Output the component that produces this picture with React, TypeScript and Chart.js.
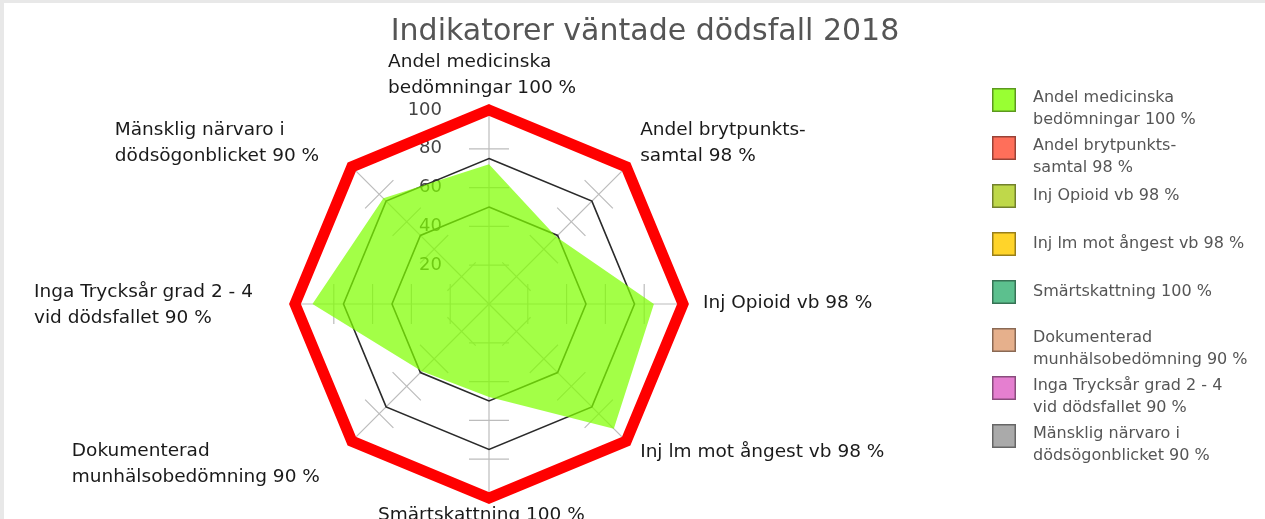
import React, { useEffect, useRef } from "react";
import { Chart, registerables } from "chart.js";

Chart.register(...registerables);

const chartTitle = "Indikatorer väntade dödsfall 2018";

const categoryLines: string[][] = [
  ["Andel medicinska", "bedömningar 100 %"],
  ["Andel brytpunkts-", "samtal 98 %"],
  ["Inj Opioid vb 98 %"],
  ["Inj lm mot ångest vb 98 %"],
  ["Smärtskattning 100 %"],
  ["Dokumenterad", "munhälsobedömning 90 %"],
  ["Inga Trycksår grad 2 - 4", "vid dödsfallet 90 %"],
  ["Mänsklig närvaro i", "dödsögonblicket 90 %"],
];
const categories = categoryLines.map((l) => l.join(" "));

const resultValues = [72, 49, 85, 91, 48, 49, 91, 77];
const targetValues = [100, 100, 100, 100, 100, 100, 100, 100];
const upperLevelValues = [75, 75, 75, 75, 75, 75, 75, 75];
const lowerLevelValues = [50, 50, 50, 50, 50, 50, 50, 50];

const tickLabels = [20, 40, 60, 80, 100];
const tickMarkValues = [20, 40, 60, 80];

const legendColors = [
  "#99ff33",
  "#ff6f5a",
  "#bfd84a",
  "#ffd42a",
  "#5cc08e",
  "#e6b08c",
  "#e57fd0",
  "#aaaaaa",
];

// layout: first-line offsets of each point label from its axis end (value 100)
const pointLabelOffsets: [number, number][] = [
  [-101, -48],
  [14, -37],
  [20, -1],
  [14, 11],
  [-111, 17],
  [-280, 10],
  [-261, -12],
  [-237, -37],
];

const FONT = '"DejaVu Sans", Verdana, sans-serif';

const decorPlugin = {
  id: "decor",
  beforeDraw(chart: any) {
    const ctx = chart.ctx;
    ctx.save();
    ctx.fillStyle = "#ffffff";
    ctx.fillRect(0, 0, chart.width, chart.height);
    ctx.fillStyle = "#e8e8e8";
    ctx.fillRect(0, 0, chart.width, 3);
    ctx.fillRect(0, 0, 4, chart.height);
    ctx.restore();
  },
  beforeDatasetsDraw(chart: any) {
    const ctx = chart.ctx;
    const s = chart.scales.r;
    ctx.save();
    ctx.strokeStyle = "#bcbcbc";
    ctx.lineWidth = 1.2;
    for (let i = 0; i < categories.length; i++) {
      const a = s.getIndexAngle(i) - Math.PI / 2;
      const px = -Math.sin(a);
      const py = Math.cos(a);
      for (const v of tickMarkValues) {
        const p = s.getPointPosition(i, s.getDistanceFromCenterForValue(v));
        ctx.beginPath();
        ctx.moveTo(p.x - 20 * px, p.y - 20 * py);
        ctx.lineTo(p.x + 20 * px, p.y + 20 * py);
        ctx.stroke();
      }
    }
    ctx.fillStyle = "#444444";
    ctx.font = `18px ${FONT}`;
    ctx.textAlign = "right";
    ctx.textBaseline = "middle";
    for (const v of tickLabels) {
      const d = s.getDistanceFromCenterForValue(v);
      ctx.fillText(String(v), s.xCenter - 47, s.yCenter - d);
    }
    ctx.restore();
  },
  afterDraw(chart: any) {
    const ctx = chart.ctx;
    const s = chart.scales.r;
    ctx.save();
    // title
    ctx.fillStyle = "#555555";
    ctx.font = `30px ${FONT}`;
    ctx.textAlign = "center";
    ctx.textBaseline = "middle";
    ctx.fillText(chartTitle, 645, 32);

    // point labels
    ctx.fillStyle = "#1a1a1a";
    ctx.font = `18.5px ${FONT}`;
    ctx.textAlign = "left";
    for (let i = 0; i < categoryLines.length; i++) {
      const p = s.getPointPosition(i, s.getDistanceFromCenterForValue(100));
      const [dx, dy] = pointLabelOffsets[i];
      categoryLines[i].forEach((line, k) => {
        ctx.fillText(line, p.x + dx, p.y + dy + k * 26);
      });
    }

    // legend
    ctx.font = `16px ${FONT}`;
    for (let i = 0; i < categoryLines.length; i++) {
      const top = 88 + 48 * i;
      ctx.fillStyle = legendColors[i];
      ctx.fillRect(992, top, 24, 24);
      ctx.strokeStyle = "rgba(0,0,0,0.4)";
      ctx.lineWidth = 1.5;
      ctx.strokeRect(992.75, top + 0.75, 22.5, 22.5);
      ctx.fillStyle = "#555555";
      const lines = categoryLines[i];
      const first = lines.length > 1 ? top + 9.5 : top + 12;
      lines.forEach((line, k) => {
        ctx.fillText(line, 1033, first + k * 22.5);
      });
    }
    ctx.restore();
  },
};

export default function App() {
  const ref = useRef<HTMLCanvasElement | null>(null);
  useEffect(() => {
    if (!ref.current) return;
    const chart = new Chart(ref.current, {
      type: "radar",
      data: {
        labels: categories,
        datasets: [
          {
            label: "Resultat",
            data: resultValues,
            backgroundColor: "rgba(128,255,0,0.72)",
            borderWidth: 0,
            fill: true,
            pointRadius: 0,
            order: 0,
          },
          {
            label: "Mål",
            data: targetValues,
            borderColor: "#ff0000",
            borderWidth: 11,
            borderJoinStyle: "miter",
            fill: false,
            pointRadius: 0,
            order: 1,
          },
          {
            label: "75",
            data: upperLevelValues,
            borderColor: "#2a2a2a",
            borderWidth: 1.6,
            fill: false,
            pointRadius: 0,
            order: 2,
          },
          {
            label: "50",
            data: lowerLevelValues,
            borderColor: "#2a2a2a",
            borderWidth: 1.6,
            fill: false,
            pointRadius: 0,
            order: 3,
          },
        ],
      },
      options: {
        responsive: false,
        animation: false,
        events: [],
        layout: { padding: { left: 295, right: 582, top: 110, bottom: 21 } },
        plugins: {
          legend: { display: false },
          title: { display: false },
          tooltip: { enabled: false },
        },
        scales: {
          r: {
            min: 0,
            max: 100,
            ticks: { display: false, stepSize: 20 },
            grid: { display: false },
            angleLines: { display: true, color: "#bcbcbc", lineWidth: 1.2 },
            pointLabels: { display: false },
          },
        },
      },
      plugins: [decorPlugin],
    } as any);
    return () => chart.destroy();
  }, []);
  return (
    <div style={{ position: "fixed", left: 0, top: 0, width: 1265, height: 519, background: "#fff" }}>
      <canvas ref={ref} width={1265} height={519} style={{ display: "block" }} />
    </div>
  );
}
